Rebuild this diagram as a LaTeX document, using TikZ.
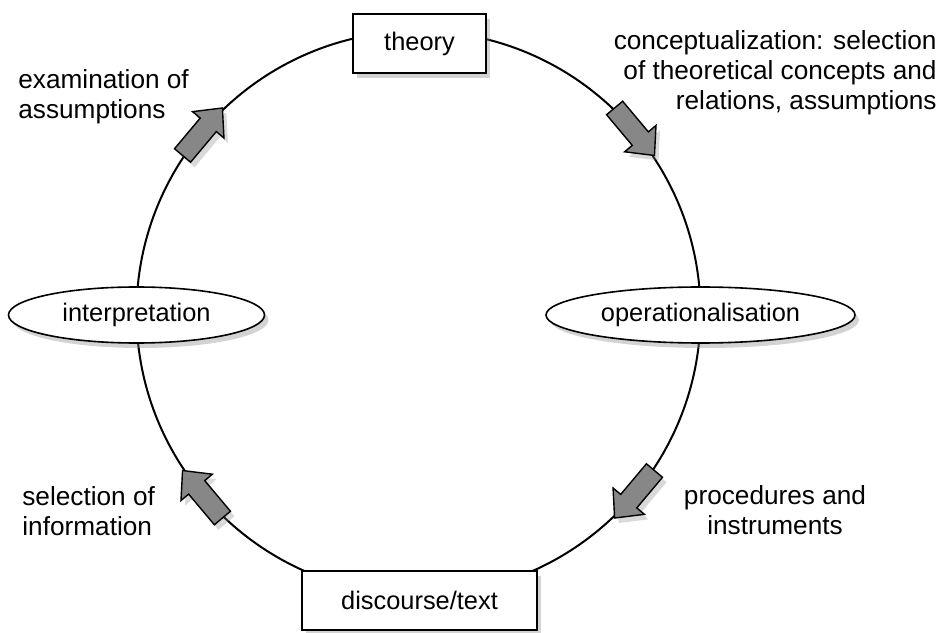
\documentclass[tikz,border=0pt]{standalone}
\usepackage{fontspec}
\setmainfont{Liberation Sans}
\usepackage{tikz}
\usetikzlibrary{calc}
\usetikzlibrary{positioning}
\usetikzlibrary{shapes.geometric}
\usetikzlibrary{shadows}
\tikzset{stage/.style = {draw, fill=white, line width=0.8pt, inner sep=0pt,
                         drop shadow={shadow xshift=2pt, shadow yshift=-2.5pt, opacity=0.35}},
         boxstage/.style = {stage, rectangle, minimum height=29.5pt},
         ovalstage/.style = {stage, ellipse, minimum height=28pt},
         note/.style = {inner sep=0pt, font=\fontsize{13.1}{15}\selectfont},
         flow/.style = {draw, line width=0.7pt, fill=black!47, line join=miter,
                        drop shadow={shadow xshift=2pt, shadow yshift=-2.5pt, opacity=0.3}}}

\begin{document}
\begin{tikzpicture}[x=0.5pt, y=0.5pt, font=\fontsize{12.7}{15}\selectfont]
     \useasboundingbox (0, 0) rectangle (941, 632);
     \coordinate (c) at (418.5, 319);
     \draw [line width=1pt] (c) circle (282);
     % block arrows, clockwise round the circle
     \foreach \a in {40, 140, -40, -140} {
          \coordinate (tip) at ($(c) + (\a:282) + ({\a-90}:31)$);
          \coordinate (tail) at ($(c) + (\a:282) + ({\a+90}:31)$);
          \draw [flow] ($(tail) + (\a:10.5)$) -- ++({\a-90}:40) -- ++(\a:10) -- (tip)
                -- ($(tail) + ({\a-90}:40) + ({\a+180}:20.5)$) -- ++(\a:10) -- ++({\a+90}:40) -- cycle;
     }
     \node [boxstage, minimum width=66.5pt] (theory) at (419.5, 588.5) {theory};
     \node [boxstage, minimum width=117.5pt] (discourse) at (419.5, 31.5) {discourse/text};
     \node [ovalstage, minimum width=128pt] (interpretation) at (136.5, 317) {interpretation};
     \node [ovalstage, minimum width=154.5pt] (operationalisation) at (700.5, 317) {operationalisation};
     \node [note, anchor=west, align=left] (examination) at (18, 535) {examination of\\assumptions};
     \node [note, anchor=east, align=right] (conceptualization) at (937, 559)
          {conceptualization: selection\\of theoretical concepts and\\relations, assumptions};
     \node [note, anchor=west, align=left] (selection) at (22, 121) {selection of\\information};
     \node [note, align=center] (procedures) at (775, 122) {procedures and\\instruments};
\end{tikzpicture}
\end{document}
